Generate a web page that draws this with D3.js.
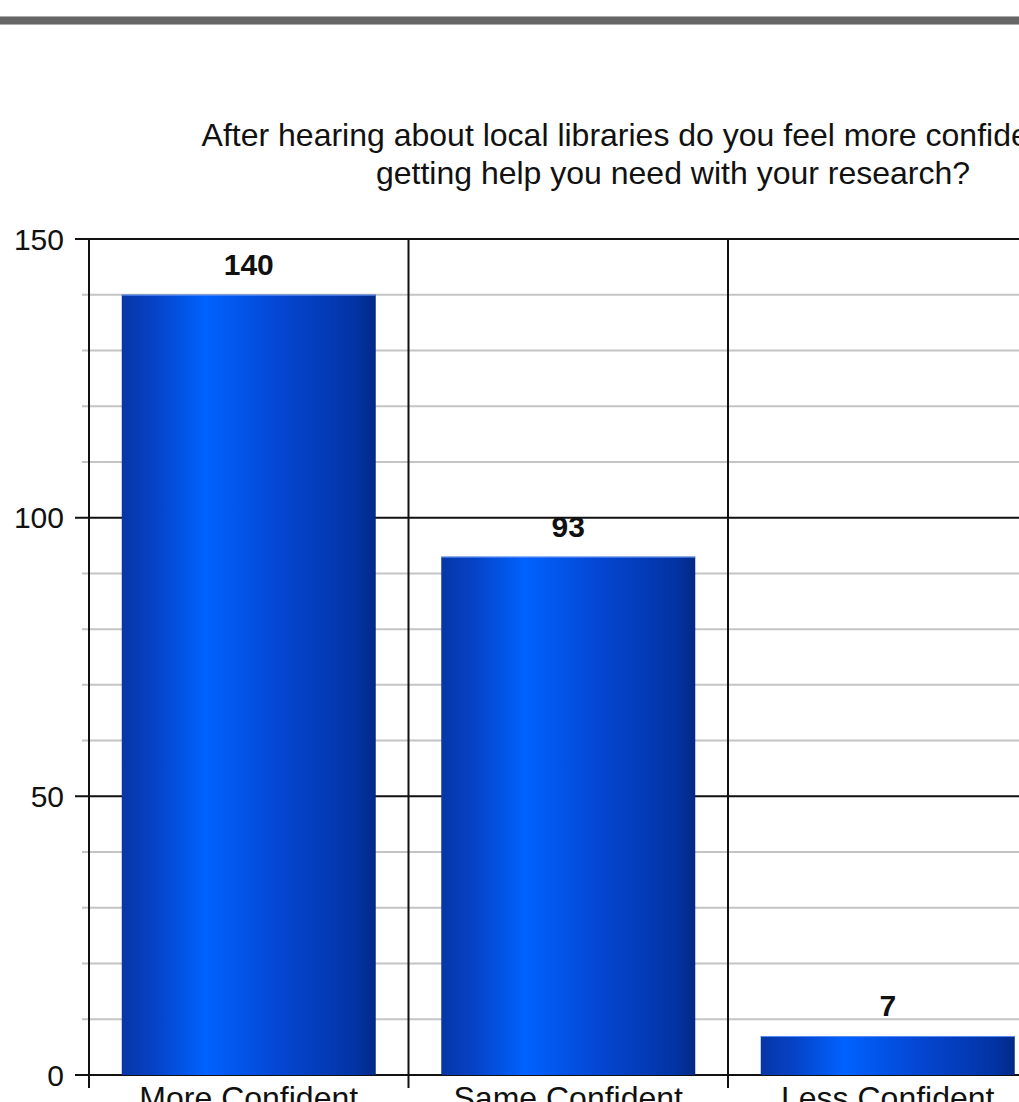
<!DOCTYPE html>
<html>
<head>
<meta charset="utf-8">
<script src="https://cdn.jsdelivr.net/npm/d3@7/dist/d3.min.js"></script>
<style>
    html, body { margin: 0; padding: 0; background: #fff; overflow: hidden; }
    svg { display: block; }
    text { font-family: "Liberation Sans", Arial, sans-serif; fill: #111; }
</style>
</head>
<body>
<div id="chart"></div>
<script>
var categories = ["More Confident", "Same Confident", "Less Confident"];
var counts = [140, 93, 7];
var majorTicks = [0, 50, 100, 150];
var minorTicks = [10, 20, 30, 40, 60, 70, 80, 90, 110, 120, 130, 140];
var titleLines = [
    "After hearing about local libraries do you feel more confident about",
    "getting help you need with your research?"
];

(function(d3) {
    var width = 1019, height = 1102;
    var plotLeft = 89, plotTop = 239, plotBottom = 1075, plotRight = 1047.5;

    var svg = d3.select("#chart").append("svg")
        .attr("width", width)
        .attr("height", height);

    // bar gradient, dark edges with a bright stripe left of center
    var grad = svg.append("defs").append("linearGradient")
        .attr("id", "barFill")
        .attr("x1", "0%").attr("x2", "100%")
        .attr("y1", "0%").attr("y2", "0%");
    grad.append("stop").attr("offset", "0%").attr("stop-color", "#0736a6");
    grad.append("stop").attr("offset", "12%").attr("stop-color", "#0641c4");
    grad.append("stop").attr("offset", "33%").attr("stop-color", "#0062ff");
    grad.append("stop").attr("offset", "60%").attr("stop-color", "#0448d6");
    grad.append("stop").attr("offset", "92%").attr("stop-color", "#0333a4");
    grad.append("stop").attr("offset", "100%").attr("stop-color", "#022a86");

    // grey band across the top
    svg.append("rect")
        .attr("x", -2).attr("y", 16.5)
        .attr("width", width + 4).attr("height", 8)
        .attr("fill", "#666")
        .attr("stroke", "#aaa")
        .attr("stroke-width", 1);

    svg.append("text")
        .attr("text-anchor", "middle")
        .attr("font-size", 32)
        .selectAll("tspan")
        .data(titleLines)
        .enter()
        .append("tspan")
        .attr("x", 673)
        .attr("y", function(d, i) { return 146 + i * 38; })
        .text(function(d) { return d; });

    var x = d3.scaleBand()
        .domain(categories)
        .range([plotLeft, plotRight])
        .paddingInner(0.205)
        .paddingOuter(0.1025);

    var y = d3.scaleLinear()
        .domain([0, 150])
        .range([plotBottom, plotTop]);

    var step = x.step();
    var boundaries = d3.range(categories.length + 1).map(function(i) {
        return plotLeft + i * step;
    });

    // minor grid
    svg.append("g").selectAll("line")
        .data(minorTicks)
        .enter()
        .append("line")
        .attr("x1", plotLeft - 7).attr("x2", plotRight)
        .attr("y1", function(d) { return y(d); })
        .attr("y2", function(d) { return y(d); })
        .attr("stroke", "#c4c4c4")
        .attr("stroke-width", 2);

    // major grid
    svg.append("g").selectAll("line")
        .data(majorTicks)
        .enter()
        .append("line")
        .attr("x1", plotLeft - 14).attr("x2", plotRight)
        .attr("y1", function(d) { return y(d); })
        .attr("y2", function(d) { return y(d); })
        .attr("stroke", "#111")
        .attr("stroke-width", 2);

    // vertical lines between categories, poking under the x axis
    svg.append("g").selectAll("line")
        .data(boundaries)
        .enter()
        .append("line")
        .attr("x1", function(d) { return d; })
        .attr("x2", function(d) { return d; })
        .attr("y1", plotTop)
        .attr("y2", plotBottom + 13)
        .attr("stroke", "#111")
        .attr("stroke-width", 2);

    svg.append("g").selectAll("text")
        .data(majorTicks)
        .enter()
        .append("text")
        .attr("x", 64)
        .attr("y", function(d) { return y(d); })
        .attr("dy", "0.36em")
        .attr("text-anchor", "end")
        .attr("font-size", 30)
        .attr("fill", "#222")
        .text(function(d) { return d; });

    var bars = svg.append("g").selectAll("g")
        .data(counts)
        .enter()
        .append("g");

    bars.append("rect")
        .attr("x", function(d, i) { return x(categories[i]); })
        .attr("y", function(d) { return y(d); })
        .attr("width", x.bandwidth())
        .attr("height", function(d) { return y(0) - y(d); })
        .attr("fill", "url(#barFill)");

    bars.append("line")
        .attr("x1", function(d, i) { return x(categories[i]); })
        .attr("x2", function(d, i) { return x(categories[i]) + x.bandwidth(); })
        .attr("y1", function(d) { return y(d) + 0.5; })
        .attr("y2", function(d) { return y(d) + 0.5; })
        .attr("stroke", "#5a8cf0")
        .attr("stroke-width", 1);

    bars.append("text")
        .attr("x", function(d, i) { return x(categories[i]) + x.bandwidth() / 2; })
        .attr("y", function(d) { return y(d) - 20; })
        .attr("text-anchor", "middle")
        .attr("font-size", 30)
        .attr("font-weight", "bold")
        .text(function(d) { return d; });

    svg.append("g").selectAll("text")
        .data(categories)
        .enter()
        .append("text")
        .attr("x", function(d) { return x(d) + x.bandwidth() / 2; })
        .attr("y", 1109)
        .attr("text-anchor", "middle")
        .attr("font-size", 32)
        .text(function(d) { return d; });
})(d3);
</script>
</body>
</html>
